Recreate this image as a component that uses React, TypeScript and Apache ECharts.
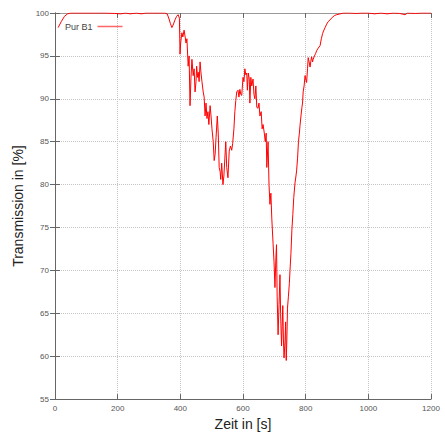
import React, { useEffect, useRef } from "react";
import * as echarts from "echarts";

const seriesName = "Pur B1";

const time = [
  10, 20, 30, 40, 50, 70, 100, 130, 160, 190, 210, 225, 240, 260, 275, 290, 310, 330, 350, 358,
  364, 368, 373, 377, 383, 388, 393, 397, 399, 401, 405, 408, 412, 415, 418, 421, 425, 428, 431, 434,
  437, 441, 444, 447, 450, 452, 455, 457, 460, 463, 466, 469, 473, 476, 479, 482, 485, 488, 491, 495,
  498, 501, 505, 508, 511, 514, 518, 521, 524, 527, 529, 532, 536, 539, 542, 545, 548, 552, 556, 560,
  564, 567, 571, 574, 577, 580, 584, 587, 590, 593, 596, 600, 603, 606, 609, 612, 614, 617, 620, 622,
  625, 628, 632, 635, 638, 641, 644, 648, 651, 654, 658, 661, 664, 668, 671, 674, 676, 680, 683, 686,
  689, 692, 696, 699, 702, 705, 707, 709, 712, 715, 718, 720, 723, 725, 727, 729, 731, 734, 736, 738,
  740, 742, 745, 748, 750, 753, 756, 759, 762, 766, 769, 771, 774, 777, 780, 782, 785, 788, 790, 792,
  795, 798, 801, 803, 806, 808, 811, 814, 817, 819, 822, 824, 828, 832, 835, 840, 846, 850, 854, 857,
  862, 867, 872, 878, 885, 892, 899, 910, 920, 940, 960, 980, 1000, 1020, 1040, 1060, 1080, 1100, 1117, 1125,
  1150, 1170, 1190, 1200,
];

const transmission = [
  98.3, 99.0, 99.6, 99.9, 100, 100, 100, 100, 100, 99.95, 99.9, 100, 99.9, 100, 99.9, 100, 100, 100, 100, 99.9,
  99.3, 98.8, 98.3, 98.6, 99.2, 99.6, 99.8, 99.4, 95.2, 96.5, 97.7, 97.2, 98.0, 97.3, 96.5, 97.0, 93.8, 95.0, 89.2, 92.5,
  94.6, 92.7, 93.5, 90.8, 92.0, 93.8, 92.5, 93.1, 92.0, 94.3, 93.0, 92.0, 90.8, 90.2, 88.0, 89.5, 87.7, 88.5, 87.0, 89.2,
  88.0, 86.5, 85.0, 82.8, 83.5, 85.5, 88.0, 86.0, 82.0, 81.5, 80.6, 82.5, 80.0, 81.0, 83.0, 85.0, 82.0, 80.8, 83.9, 84.5,
  84.0, 84.8, 86.5, 88.5, 89.8, 90.8, 91.0, 90.2, 91.1, 90.5, 90.4, 92.5, 92.0, 93.5, 92.8, 93.0, 91.0, 93.0, 92.3, 89.5,
  92.5, 91.5, 92.3, 90.5, 90.0, 91.5, 89.0, 88.9, 89.5, 88.0, 88.5, 86.5, 87.0, 86.0, 85.0, 86.0, 82.0, 85.0, 80.0, 77.7,
  79.0, 76.0, 73.1, 71.0, 68.0, 71.5, 73.0, 67.0, 62.5, 66.0, 69.5, 65.0, 61.2, 63.5, 65.9, 62.0, 59.8, 61.7, 64.0, 59.5,
  62.0, 65.6, 67.0, 68.5, 70.0, 72.0, 74.7, 76.5, 78.5, 80.2, 81.0, 81.6, 83.0, 85.0, 86.0, 86.9, 88.0, 89.0, 89.5, 90.8,
  91.5, 92.7, 92.2, 91.9, 93.5, 94.8, 94.3, 93.7, 94.5, 94.9, 94.3, 94.6, 95.0, 95.3, 95.6, 95.9, 96.2, 97.0, 97.6, 97.9,
  98.3, 98.7, 99.0, 99.2, 99.5, 99.7, 99.8, 99.9, 100, 100, 99.95, 100, 100, 99.9, 100, 99.9, 100, 99.95, 99.8, 100,
  99.95, 100, 100, 100,
];

const xAxisName = "Zeit in [s]";
const yAxisName = "Transmission in [%]";

export default function App() {
  const ref = useRef<HTMLDivElement>(null);
  useEffect(() => {
    if (!ref.current) return;
    const chart = echarts.init(ref.current, undefined, { renderer: "svg" });
    const font = "Liberation Sans, Arial, sans-serif";
    const frame = "#666";
    const labelStyle = { color: "#555", fontSize: 8, fontFamily: font };
    const split = { show: true, lineStyle: { color: "#c4c4c4", type: "dotted" as const, width: 1 } };
    const tick = { show: true, inside: true, length: 5, lineStyle: { color: frame } };
    chart.setOption({
      animation: false,
      backgroundColor: "#fff",
      grid: { left: 55, right: 14, top: 13, bottom: 31, containLabel: false },
      legend: {
        data: [{ name: seriesName, icon: "rect" }],
        left: 60,
        top: 17,
        align: "right",
        itemWidth: 25,
        itemHeight: 1.5,
        itemStyle: { color: "#f66" },
        textStyle: { color: "#444", fontSize: 9, fontFamily: font },
      },
      xAxis: [
        {
          type: "value",
          min: 0,
          max: 1200,
          interval: 200,
          position: "bottom",
          name: xAxisName,
          nameLocation: "middle",
          nameGap: 15,
          nameTextStyle: { color: "#222", fontSize: 14, fontFamily: font },
          axisLine: { show: true, lineStyle: { color: frame } },
          axisTick: tick,
          axisLabel: { ...labelStyle, margin: 5, formatter: (v: number) => String(v) },
          splitLine: split,
        },
        {
          type: "value",
          min: 0,
          max: 1200,
          interval: 200,
          position: "top",
          axisLine: { show: true, lineStyle: { color: "#999" } },
          axisTick: tick,
          axisLabel: { show: false },
          splitLine: { show: false },
        },
      ],
      yAxis: [
        {
          type: "value",
          min: 55,
          max: 100,
          interval: 5,
          position: "left",
          name: yAxisName,
          nameLocation: "middle",
          nameGap: 28,
          nameTextStyle: { color: "#222", fontSize: 14, fontFamily: font },
          axisLine: { show: true, lineStyle: { color: frame } },
          axisTick: tick,
          axisLabel: { ...labelStyle, margin: 6 },
          splitLine: split,
        },
        {
          type: "value",
          min: 55,
          max: 100,
          interval: 5,
          position: "right",
          axisLine: { show: true, lineStyle: { color: frame } },
          axisTick: tick,
          axisLabel: { show: false },
          splitLine: { show: false },
        },
      ],
      series: [
        {
          name: seriesName,
          type: "line",
          xAxisIndex: 0,
          yAxisIndex: 0,
          symbol: "none",
          data: time.map((t, i) => [t, transmission[i]]),
          lineStyle: { color: "#f00", width: 1 },
          itemStyle: { color: "#f00" },
        },
      ],
    });
    return () => chart.dispose();
  }, []);
  return <div ref={ref} style={{ width: 445, height: 436, position: "fixed", left: 0, top: 0 }} />;
}
